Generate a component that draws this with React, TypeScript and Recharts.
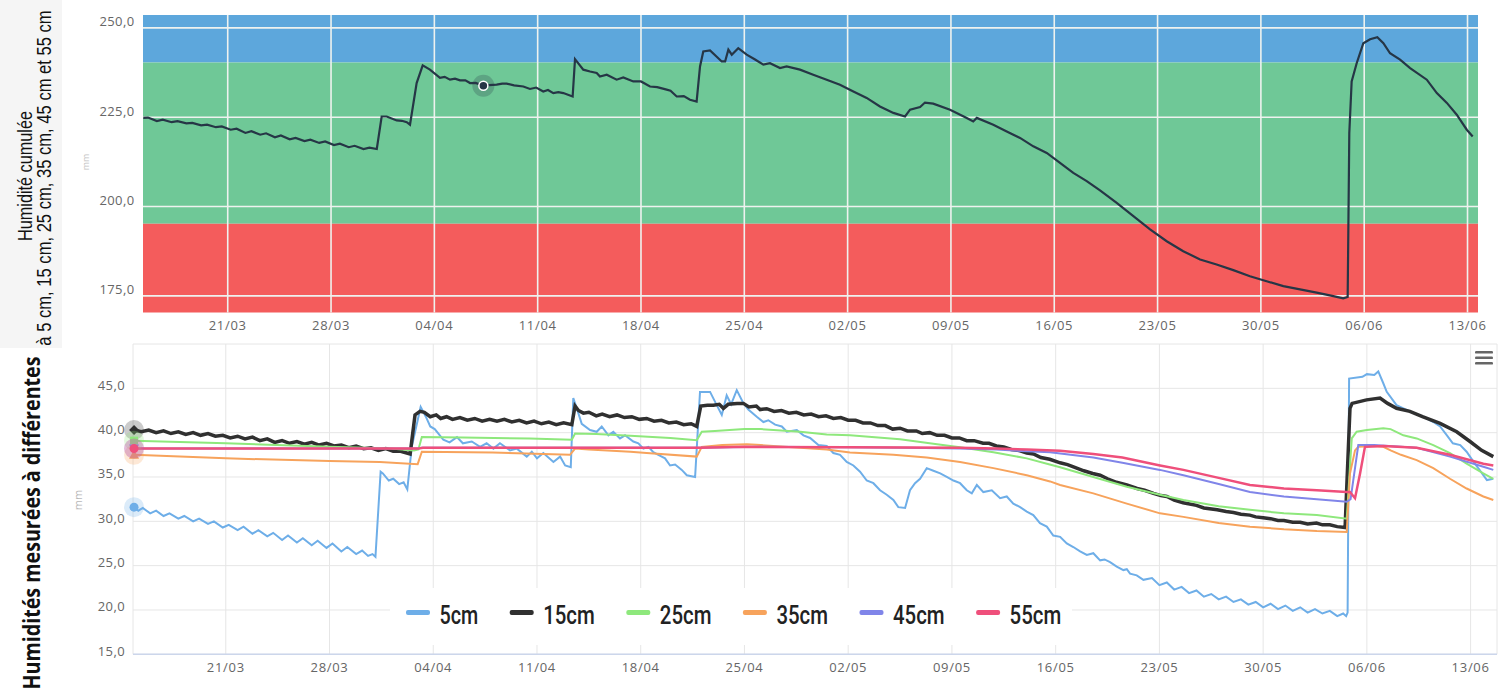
import React from 'react';
import { LineChart, Line, XAxis, YAxis, CartesianGrid, ReferenceArea, ReferenceLine, ReferenceDot } from 'recharts';

type P = [number, number];

// x values are days counted from 1 March (day 20 = 21/03)
const weekTicks = [20, 27, 34, 41, 48, 55, 62, 69, 76, 83, 90, 97, 104];
const weekLabels = ['21/03', '28/03', '04/04', '11/04', '18/04', '25/04', '02/05', '09/05', '16/05', '23/05', '30/05', '06/06', '13/06'];

const topTicks = [175, 200, 225, 250];
const bottomTicks = [15, 20, 25, 30, 35, 40, 45, 50];

const topDomainX: P = [14.26, 104.71];
const topDomainY: P = [170.35, 253.6];
const bottomDomainX: P = [13.74, 105.78];
const bottomDomainY: P = [15, 50];

// plot bands (cumulated humidity thresholds)
const bandBlue: P = [240.3, 253.6];
const bandGreen: P = [195.2, 240.3];
const bandRed: P = [170.35, 195.2];

const cumul: P[] = [
  [14.28, 224.8], [14.6, 224.9], [15.2, 223.9], [15.6, 224.3], [16.2, 223.6], [16.6, 223.9], [17.2, 223.3], [17.6, 223.4],
  [18.2, 222.7], [18.6, 222.9], [19.2, 222.2], [19.6, 222.4], [20.2, 221.5], [20.6, 221.8], [21.2, 220.6], [21.6, 221.1],
  [22.2, 220.1], [22.6, 220.5], [23.2, 219.4], [23.6, 219.9], [24.2, 218.8], [24.6, 219.2], [25.2, 218.3], [25.6, 218.7],
  [26.2, 217.8], [26.6, 218.2], [27.2, 217.2], [27.6, 217.6], [28.2, 216.6], [28.6, 217.0], [29.2, 216.1], [29.6, 216.5],
  [30.1, 216.1], [30.43, 225.2], [30.77, 225.2], [31.45, 224.1], [31.8, 224.0], [32.13, 223.6], [32.35, 222.9], [32.8, 234.55],
  [33.21, 239.5], [33.7, 238.3], [34.38, 236.0], [34.7, 236.3], [35.06, 235.5], [35.4, 235.8], [35.74, 235.3], [36.1, 235.3],
  [36.42, 234.55], [36.8, 234.6], [37.32, 233.8], [37.7, 234.0], [38.22, 234.1], [38.6, 234.4], [38.9, 234.4], [39.4, 233.9],
  [40.03, 233.6], [40.48, 232.9], [40.9, 233.3], [41.38, 232.2], [41.7, 232.6], [42.06, 231.75], [42.4, 232.0], [42.74, 231.75],
  [43.37, 230.8], [43.53, 241.25], [44.09, 238.3], [44.55, 237.8], [45.0, 237.4], [45.22, 236.4], [45.68, 236.9], [46.35, 235.5],
  [46.8, 236.1], [47.48, 235.0], [48.0, 235.0], [48.61, 233.6], [49.1, 233.4], [49.74, 232.7], [50.0, 232.4], [50.42, 230.8],
  [50.9, 230.9], [51.32, 229.9], [51.77, 229.4], [52.0, 239.2], [52.22, 243.4], [52.68, 243.7], [53.47, 240.6], [53.7, 240.6],
  [53.92, 243.9], [54.15, 242.5], [54.59, 244.3], [55.16, 242.5], [55.7, 241.2], [56.29, 239.7], [56.74, 240.1], [57.42, 238.75],
  [57.87, 239.2], [58.77, 238.3], [59.67, 236.9], [60.58, 235.5], [61.48, 234.1], [62.39, 232.2], [63.29, 230.4], [64.19, 228.0],
  [65.1, 226.2], [65.89, 225.2], [66.23, 227.1], [66.91, 227.85], [67.24, 229.1], [67.8, 228.8], [68.94, 227.1], [70.07, 224.8],
  [70.51, 223.8], [70.75, 224.8], [71.87, 222.9], [72.78, 221.0], [73.68, 219.2], [74.58, 216.85], [75.49, 215.0], [76.39, 212.2],
  [77.29, 209.4], [78.2, 207.1], [79.1, 204.5], [80.23, 201.0], [81.36, 197.3], [82.49, 193.6], [83.62, 190.3], [84.74, 187.5],
  [85.88, 185.2], [87.0, 183.8], [88.13, 182.2], [89.26, 180.5], [90.39, 179.1], [91.52, 177.75], [92.65, 176.8], [93.78, 175.9],
  [94.91, 174.95], [95.58, 174.3], [95.88, 174.7], [95.99, 220.6], [96.15, 235.0], [96.49, 240.1], [96.94, 245.7], [97.4, 246.8],
  [97.89, 247.4], [98.3, 245.7], [98.75, 242.9], [99.43, 241.1], [100.11, 238.75], [101.24, 235.5], [101.92, 231.75], [102.6, 229.0],
  [103.27, 225.7], [103.95, 221.5], [104.35, 219.6],
];
const topHoverDay = 37.32;

const s5: P[] = [
  [13.81, 31.6], [14.1, 31.2], [14.4, 31.5], [14.9, 30.9], [15.3, 31.2], [15.8, 30.6], [16.2, 30.9], [16.8, 30.3], [17.2, 30.6],
  [17.8, 30.0], [18.2, 30.3], [18.8, 29.7], [19.2, 30.0], [19.8, 29.3], [20.2, 29.6], [20.8, 29.0], [21.2, 29.4], [21.8, 28.6],
  [22.2, 29.0], [22.8, 28.3], [23.2, 28.7], [23.8, 27.9], [24.2, 28.4], [24.8, 27.6], [25.2, 28.1], [25.8, 27.3], [26.2, 27.8],
  [26.8, 27.0], [27.2, 27.5], [27.8, 26.6], [28.2, 27.1], [28.8, 26.3], [29.2, 26.7], [29.6, 26.1], [29.9, 26.3], [30.1, 26.0],
  [30.45, 35.6], [30.6, 35.4], [31.0, 34.6], [31.3, 34.8], [31.7, 34.2], [32.0, 34.4], [32.25, 33.6], [32.55, 38.4], [33.15, 42.9],
  [33.5, 41.8], [33.8, 40.7], [34.1, 40.4], [34.35, 39.9], [34.68, 39.2], [35.1, 38.9], [35.6, 39.5], [36.0, 38.8], [36.6, 39.0],
  [37.16, 38.4], [37.6, 38.8], [38.06, 38.2], [38.5, 38.8], [39.18, 38.0], [39.64, 38.2], [40.31, 37.3], [40.65, 37.85], [41.0, 37.1],
  [41.43, 37.7], [42.11, 36.7], [42.56, 37.3], [42.9, 36.3], [43.28, 36.1], [43.45, 43.9], [43.79, 42.2], [44.02, 41.0], [44.58, 40.3],
  [45.03, 40.1], [45.37, 40.7], [45.82, 39.7], [46.15, 40.1], [46.6, 39.35], [46.94, 39.7], [47.5, 39.0], [47.84, 38.8], [48.18, 38.2],
  [48.52, 38.4], [48.85, 37.8], [49.19, 37.5], [49.64, 37.1], [49.98, 36.3], [50.32, 36.4], [50.77, 35.8], [51.11, 35.2], [51.67, 35.0],
  [52.0, 44.6], [52.68, 44.6], [53.13, 43.1], [53.47, 42.0], [53.8, 44.2], [54.1, 43.2], [54.48, 44.8], [54.9, 43.4], [55.26, 42.6],
  [55.83, 41.8], [56.28, 41.2], [56.61, 41.4], [57.07, 40.9], [57.52, 40.7], [57.86, 40.1], [58.53, 40.3], [58.98, 39.7], [59.43, 39.4],
  [59.99, 38.6], [60.55, 38.5], [61.0, 37.7], [61.45, 37.5], [61.9, 36.7], [62.35, 36.3], [62.8, 35.6], [63.25, 34.6], [63.7, 34.3],
  [64.15, 33.5], [64.6, 33.0], [65.05, 32.4], [65.38, 31.6], [65.84, 31.5], [66.17, 33.5], [66.51, 34.3], [66.85, 34.8], [67.3, 36.0],
  [67.75, 35.7], [68.21, 35.4], [68.65, 35.0], [69.1, 34.6], [69.55, 34.3], [70.0, 33.5], [70.34, 33.15], [70.68, 34.1], [71.12, 33.3],
  [71.69, 33.5], [72.25, 32.6], [72.7, 32.8], [73.14, 32.0], [73.6, 31.6], [74.05, 31.1], [74.49, 30.7], [74.94, 29.8], [75.4, 29.4],
  [75.84, 28.4], [76.3, 28.25], [76.75, 27.5], [77.19, 27.1], [77.65, 26.6], [78.1, 26.2], [78.54, 26.4], [79.0, 25.6], [79.3, 25.7],
  [79.67, 25.4], [80.12, 24.9], [80.57, 24.5], [80.8, 24.6], [81.02, 24.1], [81.47, 23.9], [81.92, 23.4], [82.5, 23.6], [83.0, 22.8],
  [83.5, 23.1], [84.0, 22.3], [84.5, 22.6], [85.0, 21.9], [85.5, 22.2], [86.0, 21.5], [86.5, 21.8], [87.0, 21.2], [87.5, 21.5],
  [88.0, 20.9], [88.5, 21.2], [89.0, 20.6], [89.5, 20.9], [90.0, 20.3], [90.5, 20.7], [91.0, 20.1], [91.5, 20.5], [92.0, 19.9],
  [92.5, 20.3], [93.0, 19.7], [93.5, 20.1], [94.0, 19.6], [94.5, 19.9], [95.0, 19.3], [95.4, 19.6], [95.6, 19.3], [95.7, 19.7],
  [95.8, 46.1], [96.7, 46.3], [97.0, 46.6], [97.5, 46.5], [97.77, 46.9], [98.1, 45.6], [98.34, 44.6], [99.0, 43.1], [99.9, 42.4],
  [100.8, 41.8], [101.48, 41.2], [101.94, 40.7], [102.4, 39.7], [102.8, 38.8], [103.3, 38.6], [103.73, 37.85], [104.2, 36.7],
  [104.6, 35.8], [105.1, 34.65], [105.53, 34.8],
];

const s15: P[] = [
  [13.81, 40.3], [14.3, 40.1], [14.8, 40.3], [15.3, 40.0], [15.8, 40.2], [16.3, 39.9], [16.8, 40.1], [17.3, 39.8], [17.8, 40.0],
  [18.3, 39.7], [18.8, 39.9], [19.3, 39.6], [19.8, 39.7], [20.3, 39.4], [20.8, 39.6], [21.3, 39.3], [21.8, 39.5], [22.3, 39.1],
  [22.8, 39.3], [23.3, 38.9], [23.8, 39.1], [24.3, 38.8], [24.8, 39.0], [25.3, 38.7], [25.8, 38.9], [26.3, 38.6], [26.8, 38.8],
  [27.3, 38.5], [27.8, 38.6], [28.3, 38.3], [28.8, 38.5], [29.3, 38.2], [29.8, 38.3], [30.3, 38.0], [30.8, 38.2], [31.3, 37.9],
  [31.8, 37.9], [32.44, 37.6], [32.77, 42.0], [33.11, 42.4], [33.4, 42.3], [33.8, 41.8], [34.2, 42.0], [34.5, 41.6], [34.9, 41.8],
  [35.3, 41.5], [35.8, 41.7], [36.3, 41.4], [36.8, 41.6], [37.3, 41.3], [37.8, 41.5], [38.3, 41.3], [38.8, 41.5], [39.3, 41.2],
  [39.8, 41.4], [40.3, 41.1], [40.8, 41.3], [41.3, 41.0], [41.8, 41.2], [42.3, 40.9], [42.8, 41.1], [43.35, 40.9], [43.57, 43.0],
  [43.8, 42.5], [44.13, 42.2], [44.5, 42.3], [45.0, 41.9], [45.4, 42.1], [45.9, 41.8], [46.4, 42.0], [46.9, 41.7], [47.4, 41.8],
  [47.9, 41.5], [48.4, 41.6], [48.9, 41.3], [49.4, 41.4], [49.9, 41.1], [50.4, 41.2], [50.9, 40.9], [51.4, 41.0], [51.78, 40.7],
  [52.05, 43.0], [52.5, 43.1], [52.9, 43.1], [53.3, 43.2], [53.58, 42.75], [53.9, 43.2], [54.5, 43.3], [54.93, 43.3], [55.3, 42.9],
  [55.8, 43.0], [56.06, 42.6], [56.5, 42.7], [57.0, 42.4], [57.5, 42.5], [58.0, 42.2], [58.5, 42.3], [59.0, 42.0], [59.5, 42.1],
  [60.0, 41.8], [60.5, 41.9], [61.0, 41.6], [61.5, 41.7], [62.0, 41.4], [62.5, 41.4], [63.0, 41.1], [63.5, 41.1], [64.0, 40.8],
  [64.5, 40.8], [65.0, 40.4], [65.5, 40.5], [66.0, 40.2], [66.6, 40.2], [67.0, 39.9], [67.5, 40.0], [68.0, 39.7], [68.5, 39.7],
  [69.0, 39.4], [69.5, 39.4], [70.0, 39.1], [70.5, 39.1], [71.1, 38.8], [71.5, 38.8], [72.0, 38.5], [72.5, 38.4], [73.0, 38.1],
  [73.5, 38.0], [74.05, 37.7], [74.5, 37.6], [75.0, 37.2], [75.6, 37.0], [76.3, 36.6], [76.8, 36.4], [77.2, 36.15], [77.9, 35.7],
  [78.5, 35.4], [79.0, 35.2], [79.5, 34.8], [80.1, 34.4], [80.8, 34.1], [81.5, 33.7], [82.0, 33.5], [82.6, 33.15], [83.1, 32.9],
  [83.5, 32.8], [84.0, 32.4], [84.6, 32.1], [85.5, 31.8], [86.0, 31.5], [86.9, 31.3], [87.5, 31.1], [88.0, 31.0], [88.5, 30.8],
  [89.1, 30.7], [89.5, 30.5], [90.0, 30.4], [90.5, 30.3], [91.0, 30.1], [91.4, 30.1], [92.0, 29.9], [92.5, 29.9], [93.0, 29.7],
  [93.6, 29.8], [94.0, 29.6], [94.5, 29.6], [95.0, 29.4], [95.53, 29.3], [95.86, 42.75], [96.0, 43.3], [96.98, 43.7], [97.89, 43.9],
  [98.4, 43.3], [99.0, 42.75], [99.9, 42.4], [100.75, 41.8], [101.94, 41.05], [103.06, 40.1], [103.96, 39.0], [104.74, 38.0],
  [105.53, 37.3],
];

const s25: P[] = [
  [13.81, 39.1], [20, 38.8], [27, 38.4], [31.1, 38.2], [32.7, 38.0], [33.0, 38.1], [33.23, 39.5], [36, 39.45], [40.5, 39.35],
  [43.35, 39.2], [43.57, 39.9], [45, 39.85], [47.3, 39.65], [50, 39.4], [51.78, 39.15], [52.12, 40.1], [53, 40.2], [54.0, 40.3],
  [55.0, 40.4], [56.1, 40.4], [58.76, 40.1], [60.55, 39.8], [62.12, 39.7], [65.5, 39.25], [68.0, 38.7], [69.55, 38.35], [71.8, 37.8],
  [74.05, 37.1], [75.6, 36.4], [76.3, 36.1], [78.54, 35.0], [80.8, 33.9], [83.04, 33.0], [84.62, 32.4], [87.0, 31.7], [89.11, 31.3],
  [91.4, 30.9], [93.62, 30.7], [95.64, 30.3], [95.98, 39.35], [96.31, 40.1], [97.0, 40.3], [98.11, 40.5], [98.6, 40.4], [99.46, 39.7],
  [100.36, 39.35], [101.48, 38.6], [102.61, 37.7], [103.73, 36.5], [104.86, 35.4], [105.53, 34.8],
];

const s35: P[] = [
  [13.81, 37.5], [20, 37.1], [27, 36.8], [30.4, 36.7], [32.95, 36.45], [33.23, 37.85], [38, 37.75], [43.23, 37.5], [43.57, 38.2],
  [44.5, 38.1], [47.3, 37.85], [48.4, 37.7], [51.78, 37.3], [52.12, 38.4], [53.5, 38.6], [55.16, 38.7], [56.1, 38.6], [58.76, 38.3],
  [60.55, 38.1], [62.12, 37.75], [65.05, 37.5], [67.3, 37.2], [69.55, 36.7], [71.8, 36.0], [74.05, 35.2], [75.62, 34.5], [76.3, 34.1],
  [78.54, 33.15], [80.8, 32.0], [83.04, 30.9], [84.62, 30.5], [87.0, 29.8], [89.11, 29.4], [91.4, 29.1], [93.62, 28.9], [95.64, 28.8],
  [95.86, 35.4], [96.2, 38.0], [96.42, 38.4], [97.5, 38.5], [98.11, 38.4], [98.6, 38.0], [99.3, 37.5], [100.36, 36.9], [101.48, 36.0],
  [102.61, 34.8], [103.73, 33.7], [104.86, 32.8], [105.53, 32.4],
];

const s45: P[] = [
  [13.81, 38.2], [32.9, 38.2], [33.2, 38.3], [52.0, 38.3], [56.0, 38.4], [62.0, 38.35], [66.0, 38.3], [69.5, 38.2], [72.0, 38.1],
  [74.05, 37.9], [75.62, 37.8], [78.54, 37.2], [80.5, 36.6], [83.04, 35.8], [84.62, 35.2], [87.0, 34.2], [89.11, 33.3], [91.4, 32.8],
  [93.62, 32.5], [95.64, 32.2], [95.9, 32.5], [96.42, 38.6], [97.5, 38.6], [98.5, 38.5], [100.36, 38.3], [102.61, 37.3],
  [104.86, 36.15], [105.53, 35.8],
];

const s55: P[] = [
  [13.81, 38.2], [20, 38.2], [33, 38.2], [33.3, 38.3], [45, 38.3], [52, 38.3], [55, 38.4], [62, 38.35], [69.5, 38.3], [72, 38.2],
  [74.05, 38.1], [76.3, 37.95], [78.54, 37.6], [80.5, 37.2], [83.04, 36.3], [84.62, 35.8], [87, 34.9], [89.11, 34.1], [91.4, 33.7],
  [93.62, 33.5], [95.64, 33.3], [95.86, 33.3], [96.2, 32.6], [96.54, 35.4], [96.87, 38.4], [98.11, 38.5], [100.36, 38.3],
  [102.61, 37.5], [104.86, 36.5], [105.53, 36.3],
];

const seriesNames = ['5cm', '15cm', '25cm', '35cm', '45cm', '55cm'];
const seriesPoints = [s5, s15, s25, s35, s45, s55];

// ---- styles ----
const seriesColors = ['#6eaee8', '#303030', '#8ee87c', '#f7a35c', '#8085e9', '#ef4f7b'];
const seriesWidths = [2, 3.5, 2, 2, 2, 2.5];
const seriesMarkers = ['circle', 'diamond', 'square', 'triangle', 'triangle-down', 'circle'];
const bandColors = { blue: '#5da7dc', green: '#6fc897', red: '#f45c5c' };
const FONT = "'Open Sans', 'DejaVu Sans', sans-serif";

const toRows = (pts: P[]) => pts.map(([d, v]) => ({ d, v }));
const fmtNum = (v: number) => v.toFixed(1).replace('.', ',');
const fmtDate = (d: number) => {
  const i = weekTicks.indexOf(d);
  return i >= 0 ? weekLabels[i] : '';
};

const makeXTick = (dyv: number) => (p: any) => (
  <text x={p.x} y={p.y + dyv} textAnchor="middle" fill="#666666" fontSize={13} fontFamily={FONT} letterSpacing={0.7}>
    {fmtDate(p.payload.value)}
  </text>
);
const makeYTick = (dyv: number, hide?: number) => (p: any) => (
  <text x={p.x} y={p.y + dyv} textAnchor="end" fill="#666666" fontSize={13} fontFamily={FONT} letterSpacing={0.4}>
    {p.payload.value === hide ? '' : fmtNum(p.payload.value)}
  </text>
);

const markerShape = (kind: string, color: string) => (p: any) => {
  const { cx, cy } = p;
  let sym: React.ReactNode;
  if (kind === 'diamond') sym = <path d={`M${cx},${cy - 5}L${cx + 5},${cy}L${cx},${cy + 5}L${cx - 5},${cy}Z`} fill={color} />;
  else if (kind === 'square') sym = <rect x={cx - 4} y={cy - 4} width={8} height={8} fill={color} />;
  else if (kind === 'triangle') sym = <path d={`M${cx},${cy - 5}L${cx + 5},${cy + 4}L${cx - 5},${cy + 4}Z`} fill={color} />;
  else if (kind === 'triangle-down') sym = <path d={`M${cx - 5},${cy - 4}L${cx + 5},${cy - 4}L${cx},${cy + 5}Z`} fill={color} />;
  else sym = <circle cx={cx} cy={cy} r={4.5} fill={color} />;
  return (
    <g>
      <circle cx={cx} cy={cy} r={10} fill={color} fillOpacity={0.25} />
      {sym}
    </g>
  );
};

const topHoverShape = (p: any) => (
  <g>
    <circle cx={p.cx} cy={p.cy} r={11} fill="#263646" fillOpacity={0.25} />
    <circle cx={p.cx} cy={p.cy} r={4.5} fill="#263646" stroke="#ffffff" strokeWidth={1.5} />
  </g>
);

export default function App() {
  const cumulRows = toRows(cumul);
  const hoverPt = cumul.find((q) => q[0] === topHoverDay) as P;

  // legend layout
  let lx = 406;
  const legendItems = seriesNames.map((name, i) => {
    const tw = name.length * 12.9;
    const item = { name, color: seriesColors[i], sx: lx, tx: lx + 33.5, tw };
    lx = lx + 33.5 + tw + 31.5;
    return item;
  });

  return (
    <div style={{ position: 'absolute', left: 0, top: 0, width: 1507, height: 692, background: '#ffffff', overflow: 'hidden' }}>
      <div style={{ position: 'absolute', left: 0, top: 0 }}>
        <LineChart width={1507} height={335} margin={{ top: 15, right: 29, bottom: 0, left: 0 }}>
          <XAxis type="number" dataKey="d" domain={topDomainX} allowDataOverflow ticks={weekTicks} interval={0}
            axisLine={false} tickLine={false} tickSize={0} tickMargin={0} height={22.5} tick={makeXTick(17.5)} />
          <YAxis type="number" domain={topDomainY} allowDataOverflow ticks={topTicks} interval={0}
            axisLine={false} tickLine={false} tickSize={0} tickMargin={8.5} width={143} tick={makeYTick(-1.5)} />
          <ReferenceArea y1={bandBlue[0]} y2={bandBlue[1]} fill={bandColors.blue} fillOpacity={1} stroke="none" />
          <ReferenceArea y1={bandGreen[0]} y2={bandGreen[1]} fill={bandColors.green} fillOpacity={1} stroke="none" />
          <ReferenceArea y1={bandRed[0]} y2={bandRed[1]} fill={bandColors.red} fillOpacity={1} stroke="none" />
          {topTicks.map((t) => (
            <ReferenceLine key={'ty' + t} y={t} stroke="#eef2ef" strokeWidth={1.6} />
          ))}
          {weekTicks.map((t) => (
            <ReferenceLine key={'tx' + t} x={t} stroke="#eef2ef" strokeWidth={1.6} />
          ))}
          <Line data={cumulRows} dataKey="v" type="linear" stroke="#263646" strokeWidth={2.2} dot={false}
            isAnimationActive={false} activeDot={false} />
          <ReferenceDot x={hoverPt[0]} y={hoverPt[1]} shape={topHoverShape} />
        </LineChart>
      </div>

      <div style={{ position: 'absolute', left: 0, top: 335 }}>
        <LineChart width={1507} height={357} margin={{ top: 9, right: 10, bottom: 0, left: 0 }}>
          <CartesianGrid stroke="#e6e6e6" strokeWidth={1} />
          <XAxis type="number" dataKey="d" domain={bottomDomainX} allowDataOverflow ticks={weekTicks} interval={0}
            axisLine={{ stroke: '#ccd6eb', strokeWidth: 1.5 }} tickLine={false} tickSize={0} tickMargin={0} height={37.7}
            tick={makeXTick(17.2)} />
          <YAxis type="number" domain={bottomDomainY} allowDataOverflow ticks={bottomTicks} interval={0}
            axisLine={false} tickLine={false} tickSize={0} tickMargin={8} width={133} tick={makeYTick(1.5, 50)} />
          {seriesPoints.map((pts, i) => (
            <Line key={seriesNames[i]} name={seriesNames[i]} data={toRows(pts)} dataKey="v" type="linear"
              stroke={seriesColors[i]} strokeWidth={seriesWidths[i]} dot={false} activeDot={false}
              isAnimationActive={false} />
          ))}
          {seriesPoints.map((pts, i) => (
            <ReferenceDot key={'m' + i} x={pts[0][0]} y={pts[0][1]} shape={markerShape(seriesMarkers[i], seriesColors[i])} />
          ))}
        </LineChart>
      </div>

      <svg style={{ position: 'absolute', left: 0, top: 0, pointerEvents: 'none' }} width={1507} height={692}>
        <rect x={0} y={0} width={62} height={348} fill="#f5f5f5" />
        <text transform="translate(32,176) rotate(-90) scale(0.775,1)" textAnchor="middle"
          fontFamily="'Liberation Sans', Arial, sans-serif" fontSize={21} fill="#111111">Humidité cumulée</text>
        <text transform="translate(51,178) rotate(-90) scale(0.79,1)" textAnchor="middle"
          fontFamily="'Liberation Sans', Arial, sans-serif" fontSize={21} fill="#111111">à 5 cm, 15 cm, 25 cm, 35 cm, 45 cm et 55 cm</text>
        <text transform="translate(89,162) rotate(-90)" textAnchor="middle" fontFamily={FONT} fontSize={9} fill="#c4c4c4">mm</text>
        <text transform="translate(40,523) rotate(-90)" textAnchor="middle" fontFamily={FONT} fontWeight={700}
          fontSize={24} fill="#111111" textLength={333} lengthAdjust="spacingAndGlyphs">Humidités mesurées à différentes</text>
        <text transform="translate(82,500) rotate(-90)" textAnchor="middle" fontFamily={FONT} fontSize={11} fill="#b8b8b8">mm</text>

        <rect x={390} y={588} width={682} height={57} fill="#ffffff" />
        {legendItems.map((it) => (
          <g key={it.name}>
            <rect x={it.sx} y={610} width={24} height={5} rx={2} fill={it.color} />
            <text x={it.tx} y={623.5} fontFamily="Roboto, sans-serif" fontWeight={500} fontSize={25} fill="#222222"
              textLength={it.tw} lengthAdjust="spacingAndGlyphs">{it.name}</text>
          </g>
        ))}

        <rect x={1475} y={351} width={18} height={2.6} rx={1.2} fill="#666666" />
        <rect x={1475} y={356.5} width={18} height={2.6} rx={1.2} fill="#666666" />
        <rect x={1475} y={362} width={18} height={2.6} rx={1.2} fill="#666666" />
      </svg>
    </div>
  );
}
